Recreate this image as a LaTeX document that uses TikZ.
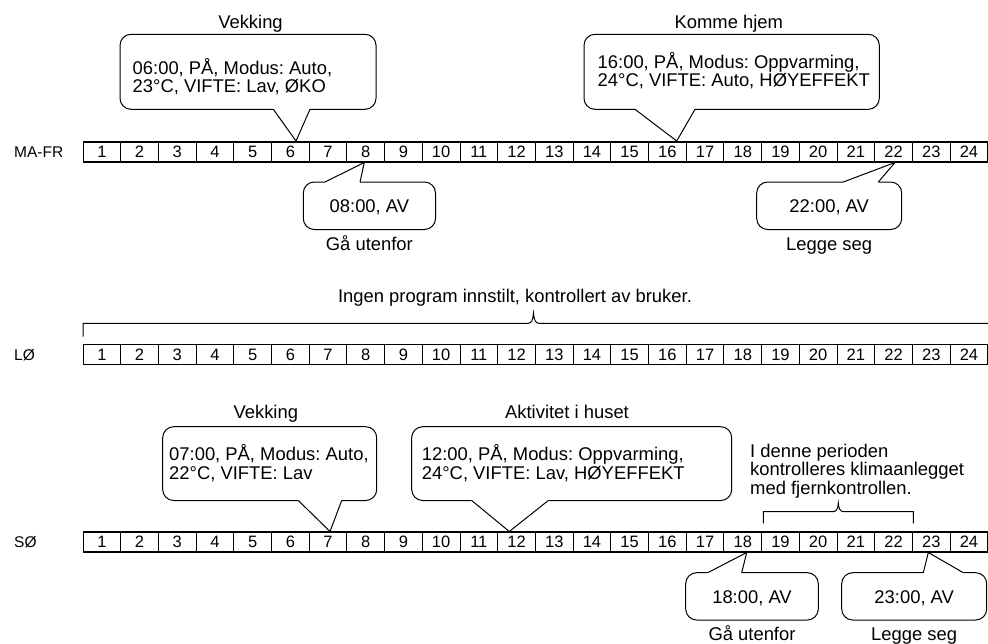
\documentclass[tikz,border=0pt]{standalone}
\usepackage{fontspec}
\setmainfont{Liberation Sans}
\frenchspacing
\newcommand\twoln[2]{\vtop{\hbox{#1}\hbox{#2}}}
\newcommand\threeln[3]{\vtop{\hbox{#1}\hbox{#2}\hbox{#3}}}
\tikzset{
  txt/.style={font=\fontsize{18.4}{18.5}\selectfont, inner sep=0pt},
  num/.style={font=\fontsize{16.5}{16.5}\selectfont, inner sep=0pt, anchor=base},
  rowlab/.style={font=\fontsize{15.5}{15.5}\selectfont, inner sep=0pt, anchor=base west},
  callout/.style={draw, line width=1pt, rounded corners=11pt},
  ptr/.style={draw, line width=1pt},
  thinline/.style={line width=1pt},
  thickline/.style={line width=1.9pt},
  bracket/.style={draw, line width=1pt}
}
\begin{document}
\begin{tikzpicture}[x=1pt,y=-1pt]
\useasboundingbox (0,0) rectangle (988,643);

% ---- timelines ----
\foreach \r/\t/\lab/\n in {m/141.8/MA-FR/157.6, l/344.5/LØ/360.3, s/532/SØ/547.8}{
  \node[rowlab] (\r lab) at (14,\n) {\lab};
  \foreach \i in {1,...,24}{
    \node[num] (\r\i) at ({83+37.7*(\i-0.5)},\n) {\i};
    \draw[thinline] ({83+37.7*\i},\t) -- ({83+37.7*\i},{\t+20});
  }
  \draw[thinline] (83,\t) -- (83,{\t+20});
  \draw[thickline] (83,\t) -- (988,\t) (83,{\t+20}) -- (988,{\t+20});
}

% ---- MA-FR callouts ----
% Vekking
\node[txt, anchor=base] (t1) at (250.5,28) {Vekking};
\draw[callout] (310,109.3) -- (376,109.3) -- (376,34.3) -- (120,34.3) -- (120,109.3) -- (273.3,109.3);
\draw[ptr] (273.3,109.3) -- (296,141) -- (310,109.3);
\node[txt, anchor=base west] (c1) at (132.5,74) {\twoln{06:00, PÅ, Modus: Auto,}{23°C, VIFTE: Lav, ØKO}};

% Komme hjem
\node[txt, anchor=base] (t2) at (728.8,28) {Komme hjem};
\draw[callout] (695,109.3) -- (879.3,109.3) -- (879.3,34.3) -- (584,34.3) -- (584,109.3) -- (635,109.3);
\draw[ptr] (635,109.3) -- (676.7,141) -- (695,109.3);
\node[txt, anchor=base west] (c2) at (597.5,68) {\twoln{16:00, PÅ, Modus: Oppvarming,}{24°C, VIFTE: Auto, HØYEFFEKT}};

% 08:00 AV
\draw[callout] (325,182) -- (303.3,182) -- (303.3,229.5) -- (435.5,229.5) -- (435.5,182) -- (360,182);
\draw[ptr] (325,182) -- (364.3,162.5) -- (360,182);
\node[txt, anchor=base] (c3) at (369.4,212.5) {08:00, AV};
\node[txt, anchor=base] (t3) at (369.4,250) {Gå utenfor};

% 22:00 AV
\draw[callout] (843.3,182) -- (756.7,182) -- (756.7,229.5) -- (901.7,229.5) -- (901.7,182) -- (878.3,182);
\draw[ptr] (843.3,182) -- (895,162.5) -- (878.3,182);
\node[txt, anchor=base] (c4) at (829.2,212.5) {22:00, AV};
\node[txt, anchor=base] (t4) at (829.2,250) {Legge seg};

% ---- LØ ----
\node[txt, anchor=base] (t5) at (515,302) {Ingen program innstilt, kontrollert av bruker.};
\draw[bracket] (83,336.7) -- (83,323.3) -- (528,323.3)
  .. controls (531.5,323.3) and (533,320) .. (533.5,313)
  .. controls (534,320) and (535.5,323.3) .. (539,323.3) -- (988,323.3);

% ---- SØ callouts ----
\node[txt, anchor=base] (t6) at (265.8,418) {Vekking};
\draw[callout] (341.7,500.5) -- (376.7,500.5) -- (376.7,426.7) -- (162.7,426.7) -- (162.7,500.5) -- (298.3,500.5);
\draw[ptr] (298.3,500.5) -- (330,531.5) -- (341.7,500.5);
\node[txt, anchor=base west] (c6) at (169,460.5) {\twoln{07:00, PÅ, Modus: Auto,}{22°C, VIFTE: Lav}};

\node[txt, anchor=base] (t7) at (567,418) {Aktivitet i huset};
\draw[callout] (548.3,500.5) -- (731.7,500.5) -- (731.7,426.7) -- (411.7,426.7) -- (411.7,500.5) -- (471.7,500.5);
\draw[ptr] (471.7,500.5) -- (509.3,531.5) -- (548.3,500.5);
\node[txt, anchor=base west] (c7) at (421.7,460.5) {\twoln{12:00, PÅ, Modus: Oppvarming,}{24°C, VIFTE: Lav, HØYEFFEKT}};

\node[txt, anchor=base west] (t8) at (750,457) {\threeln{I denne perioden}{kontrolleres klimaanlegget}{med fjernkontrollen.}};
\draw[bracket] (763.3,523.3) -- (763.3,511.7) -- (833,511.7)
  .. controls (836.5,511.7) and (838,508.5) .. (838.3,503)
  .. controls (838.6,508.5) and (840.1,511.7) .. (843.6,511.7) -- (913.3,511.7) -- (913.3,523.3);

% 18:00 AV
\draw[callout] (707.7,572.7) -- (685.7,572.7) -- (685.7,620) -- (818.3,620) -- (818.3,572.7) -- (741.7,572.7);
\draw[ptr] (707.7,572.7) -- (746.7,552.5) -- (741.7,572.7);
\node[txt, anchor=base] (c9) at (752,603) {18:00, AV};
\node[txt, anchor=base] (t9) at (752,640) {Gå utenfor};

% 23:00 AV
\draw[callout] (923.3,572.7) -- (841.7,572.7) -- (841.7,620) -- (986.7,620) -- (986.7,572.7) -- (963.3,572.7);
\draw[ptr] (923.3,572.7) -- (928.3,552.5) -- (963.3,572.7);
\node[txt, anchor=base] (c10) at (914.2,603) {23:00, AV};
\node[txt, anchor=base] (t10) at (914.2,640) {Legge seg};
\end{tikzpicture}
\end{document}
